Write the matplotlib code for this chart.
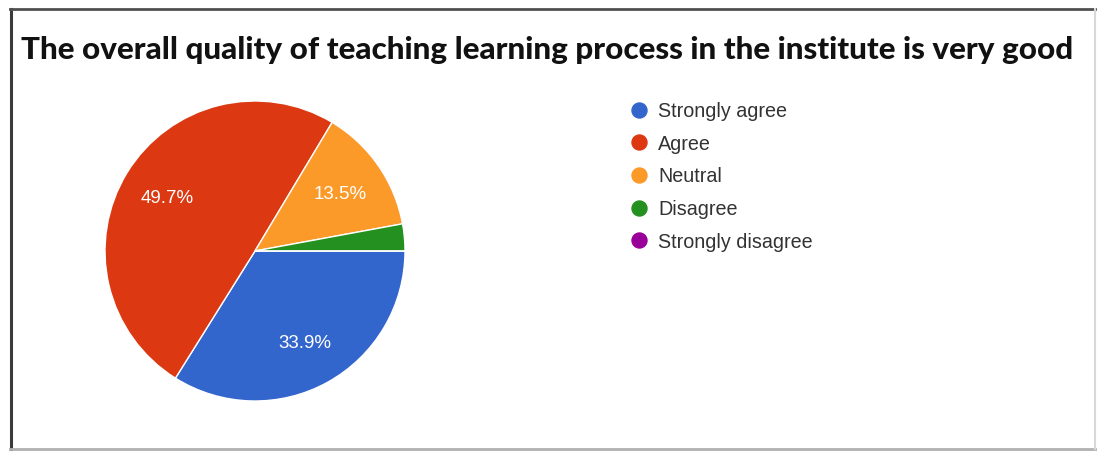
import matplotlib
matplotlib.use("Agg")
import matplotlib.pyplot as plt
from matplotlib.lines import Line2D

title = "The overall quality of teaching learning process in the institute is very good"
categories = ["Strongly agree", "Agree", "Neutral", "Disagree", "Strongly disagree"]
values = [33.9, 49.7, 13.5, 2.9, 0.0]
colors = ["#3366cc", "#dc3912", "#fb9a28", "#249020", "#990099"]

W, H = 1097, 453
DPI = 100
fig = plt.figure(figsize=(W / DPI, H / DPI), dpi=DPI)
fig.patch.set_facecolor("white")

# overlay axes in pixel coordinates (y downward) for frame, title, legend
ov = fig.add_axes([0, 0, 1, 1])
ov.set_xlim(0, W)
ov.set_ylim(H, 0)
ov.axis("off")

# frame
ov.add_line(Line2D([10.5, 10.5], [9, 449], color="#3a3a3a", lw=2.2))
ov.add_line(Line2D([10, 1095], [9, 9], color="#505050", lw=2.0))
ov.add_line(Line2D([10, 1095], [449, 449], color="#b0b0b0", lw=2.0))
ov.add_line(Line2D([1095, 1095], [9, 449], color="#d8d8d8", lw=1.5))

# title, fitted to width
t = ov.text(547, 50, title, ha="center", va="center", fontsize=17,
            fontweight="black", family=["Lato", "DejaVu Sans"], color="#111111")
fig.canvas.draw()
bb = t.get_window_extent()
t.set_fontsize(17 * 1050 / bb.width)

# legend
leg_x, leg_y0, leg_dy = 639, 109.5, 32.7
for i, (lab, col) in enumerate(zip(categories, colors)):
    y = leg_y0 + i * leg_dy
    ov.plot([leg_x], [y], marker="o", ms=15 * 72 / DPI, color=col, mec=col)
    ov.text(leg_x + 19, y, lab, ha="left", va="center_baseline", fontsize=14.2,
            family="Liberation Sans", color="#333333")

# pie
cx, cy, r = 255, 251, 150
ax = fig.add_axes([(cx - r) / W, (H - cy - r) / H, 2 * r / W, 2 * r / H])
wedges, texts, autotexts = ax.pie(
    values, colors=colors, startangle=0, counterclock=False, radius=1,
    autopct=lambda p: f"{p:.1f}%" if p >= 5 else "", pctdistance=0.69,
    wedgeprops=dict(edgecolor="white", linewidth=1.0),
    textprops=dict(color="white", fontsize=13.5, family="Liberation Sans"))
for at in autotexts:
    at.set_va("center_baseline")
ax.set_xlim(-1, 1)
ax.set_ylim(-1, 1)
ax.set_aspect("equal")
ax.axis("off")

fig.savefig("out.png", dpi=DPI, facecolor="white")
